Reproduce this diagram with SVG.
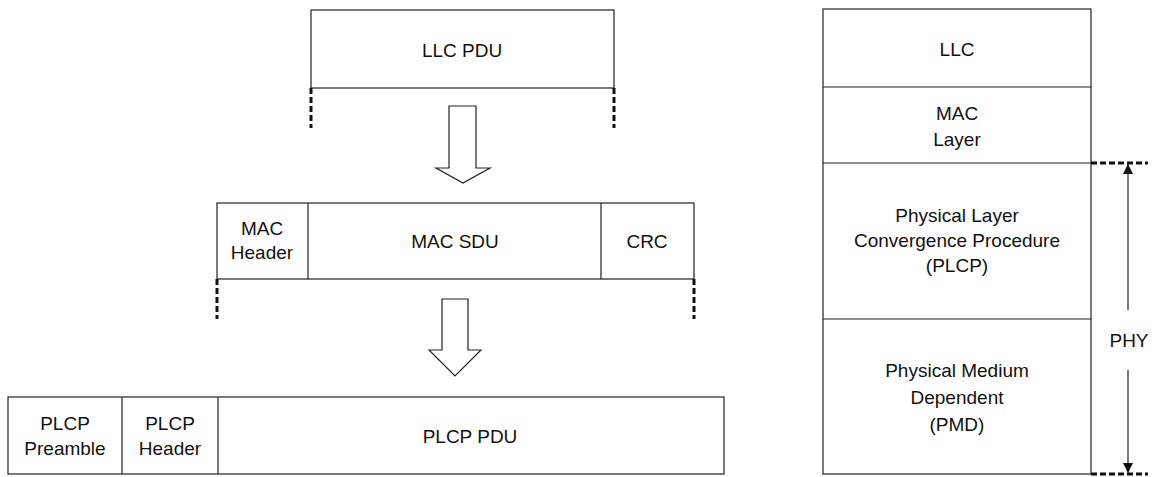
<svg xmlns="http://www.w3.org/2000/svg" width="1154" height="477" viewBox="0 0 1154 477">
<defs>
<style>
.box{fill:#fff;stroke:#222;stroke-width:1.2}
.div{stroke:#222;stroke-width:1.2}
.t{font-family:"Liberation Sans",Arial,sans-serif;font-size:19px;fill:#111;text-anchor:middle}
.dash{stroke:#111;stroke-width:3;stroke-dasharray:6 3;fill:none}
.blk{fill:#fff;stroke:#222;stroke-width:1.2}
.thin{stroke:#222;stroke-width:1.2;fill:none}
</style>
<marker id="ah" viewBox="0 0 10 10" refX="10" refY="5" markerWidth="10" markerHeight="10" markerUnits="userSpaceOnUse" orient="auto">
<path d="M0,0 L10,5 L0,10 z" fill="#111"/>
</marker>
</defs>
<rect width="1154" height="477" fill="#fff"/>
<g id="llc-pdu">
<rect class="box" x="311" y="10" width="303" height="78"/>
<text class="t" x="462" y="57">LLC PDU</text>
</g>
<g id="mac-frame">
<rect class="box" x="217" y="203" width="477" height="76"/>
<line class="div" x1="308" y1="203" x2="308" y2="279"/>
<line class="div" x1="601" y1="203" x2="601" y2="279"/>
<text class="t" x="262" y="235">MAC</text>
<text class="t" x="262" y="259">Header</text>
<text class="t" x="455" y="248">MAC SDU</text>
<text class="t" x="647" y="248">CRC</text>
</g>
<g id="plcp-frame">
<rect class="box" x="8" y="397" width="716" height="77"/>
<line class="div" x1="122" y1="397" x2="122" y2="474"/>
<line class="div" x1="218" y1="397" x2="218" y2="474"/>
<text class="t" x="65" y="430">PLCP</text>
<text class="t" x="65" y="455">Preamble</text>
<text class="t" x="170" y="430">PLCP</text>
<text class="t" x="170" y="455">Header</text>
<text class="t" x="470" y="443">PLCP PDU</text>
</g>
<g id="stack">
<rect class="box" x="823" y="9" width="268" height="465"/>
<line class="div" x1="823" y1="87" x2="1091" y2="87"/>
<line class="div" x1="823" y1="163" x2="1091" y2="163"/>
<line class="div" x1="823" y1="319" x2="1091" y2="319"/>
<text class="t" x="957" y="56">LLC</text>
<text class="t" x="957" y="120">MAC</text>
<text class="t" x="957" y="146">Layer</text>
<text class="t" x="957" y="222">Physical Layer</text>
<text class="t" x="957" y="247">Convergence Procedure</text>
<text class="t" x="957" y="272">(PLCP)</text>
<text class="t" x="957" y="377">Physical Medium</text>
<text class="t" x="957" y="404">Dependent</text>
<text class="t" x="957" y="431">(PMD)</text>
</g>
<g id="phy">
<text class="t" x="1129" y="347">PHY</text>
</g>
<g id="connectors">
<line class="dash" x1="311" y1="88" x2="311" y2="128"/>
<line class="dash" x1="614" y1="88" x2="614" y2="128"/>
<line class="dash" x1="217" y1="279" x2="217" y2="319"/>
<line class="dash" x1="694" y1="279" x2="694" y2="319"/>
<path class="blk" d="M449,106 H476 V168 H490 L463,183 L436,168 H449 Z"/>
<path class="blk" d="M442,299 H468 V350 H481 L455,376 L429,350 H442 Z"/>
<line class="dash" x1="1091" y1="163" x2="1148" y2="163"/>
<line class="dash" x1="1091" y1="474" x2="1148" y2="474"/>
<line class="thin" x1="1128" y1="310" x2="1128" y2="164" marker-end="url(#ah)"/>
<line class="thin" x1="1128" y1="370" x2="1128" y2="473" marker-end="url(#ah)"/>
</g>
</svg>
